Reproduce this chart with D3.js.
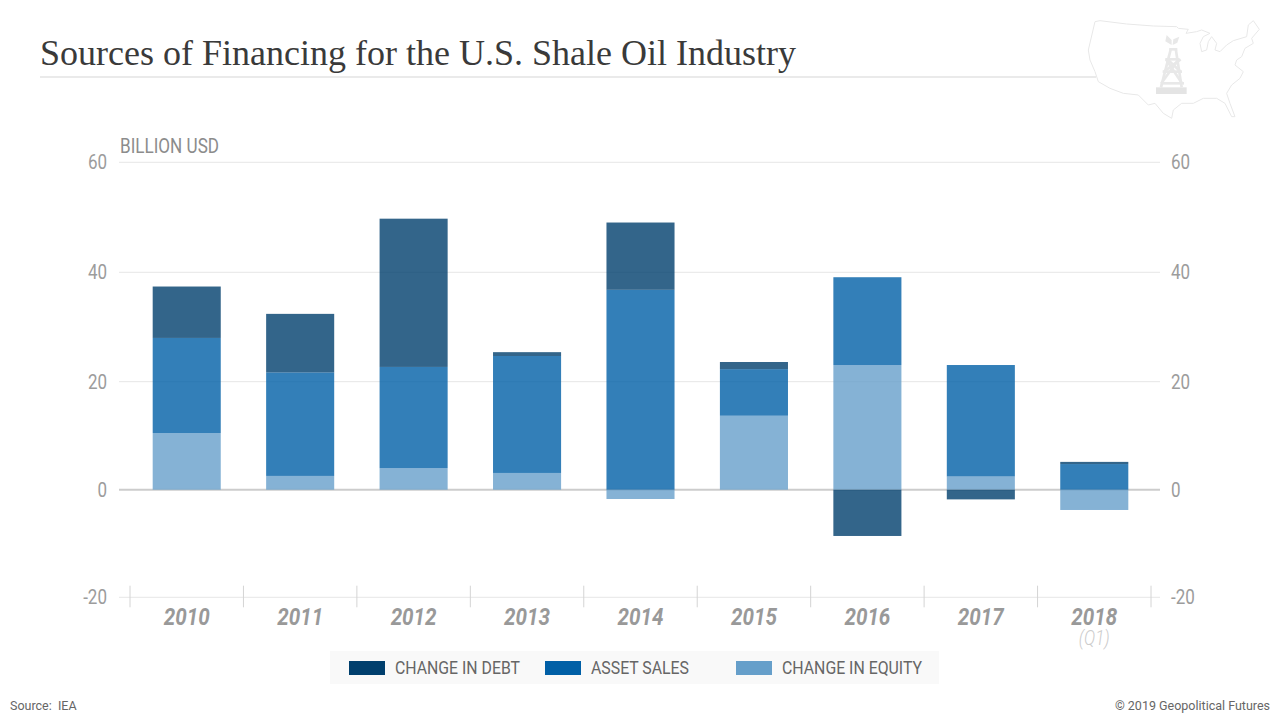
<!DOCTYPE html>
<html>
<head>
<meta charset="utf-8">
<title>Sources of Financing for the U.S. Shale Oil Industry</title>
<script src="https://cdn.jsdelivr.net/npm/d3@7"></script>
<style>
	html, body { margin: 0; padding: 0; background: #fff; }
	svg { display: block; }
	text { font-family: Roboto, sans-serif; }
</style>
</head>
<body>
<div id="chart"></div>
<script>
const years = ["2010", "2011", "2012", "2013", "2014", "2015", "2016", "2017", "2018"];
const changeInEquity = [10.5, 2.55, 4.0, 3.1, -1.73, 13.7, 23.05, 2.45, -3.77];
const assetSales = [17.5, 19.15, 18.7, 21.6, 36.8, 8.6, 16.05, 20.6, 4.75];
const changeInDebt = [9.4, 10.7, 27.05, 0.7, 12.25, 1.3, -8.6, -1.8, 0.4];

const yTicks = [-20, 0, 20, 40, 60];
const seriesKeys = ["equity", "asset", "debt"];
const seriesColors = { debt: "#003f6d", asset: "#005fa6", equity: "#669fca" };
const legendItems = [
	{ key: "debt", label: "CHANGE IN DEBT", swatch: 349, width: 125 },
	{ key: "asset", label: "ASSET SALES", swatch: 545, width: 98 },
	{ key: "equity", label: "CHANGE IN EQUITY", swatch: 736, width: 140 }
];

// decoration only, traced by hand from the logo
const mapOutline = [[105,65],[120,62],[200,72],[280,78],[350,80],[355,85],[385,88],[378,100],[410,95],[425,90],[450,100],[430,110],[420,130],[425,155],[440,150],[445,125],[455,110],[470,130],[465,150],[480,155],[500,135],[520,122],[560,110],[565,75],[580,62],[598,88],[575,115],[580,130],[555,145],[545,170],[530,180],[525,195],[550,215],[540,235],[515,255],[500,280],[510,310],[525,350],[515,350],[495,310],[470,295],[430,295],[400,310],[365,310],[340,330],[335,355],[310,340],[285,310],[265,315],[235,285],[190,280],[150,265],[115,245],[105,215],[90,180],[85,150]];
const derrickLines = [
	[[333,145],[303,262]], [[347,145],[365,262]], [[328,148],[352,148]], [[316,178],[358,178]],
	[[308,215],[366,215]], [[302,250],[372,250]], [[318,178],[366,250]], [[356,178],[304,250]],
	[[312,215],[362,178]], [[322,178],[362,215]]
];
const derrickLeaves = [[[335,135],[316,124],[320,105],[335,120]], [[338,135],[340,118],[358,110],[352,128]]];

const svg = d3.select("#chart").append("svg")
	.attr("width", 1280)
	.attr("height", 720);

// squeeze Roboto down to the narrow look of the original
function squeeze(sel, k) {
	sel.each(function () {
		const len = this.getComputedTextLength();
		d3.select(this)
			.attr("textLength", len * k)
			.attr("lengthAdjust", "spacingAndGlyphs");
	});
	return sel;
}

// Header
svg.append("text")
	.attr("x", 40)
	.attr("y", 65)
	.attr("textLength", 756)
	.attr("lengthAdjust", "spacingAndGlyphs")
	.style("font-family", "'Liberation Serif', serif")
	.style("font-size", "35px")
	.attr("fill", "#3a3a3a")
	.text("Sources of Financing for the U.S. Shale Oil Industry");

svg.append("line")
	.attr("x1", 40).attr("x2", 1096)
	.attr("y1", 77).attr("y2", 77)
	.attr("stroke", "#e3e3e3")
	.attr("stroke-width", 1.5);

// Logo
const logo = svg.append("g")
	.attr("transform", "translate(1060,0) scale(0.3333)")
	.attr("fill", "none")
	.attr("stroke", "#e8e8e8");
const logoLine = d3.line();

logo.append("path")
	.attr("d", logoLine(mapOutline) + "Z")
	.attr("fill", "#fff")
	.attr("stroke-width", 3);
logo.selectAll("path.derrick")
	.data(derrickLines)
	.enter()
	.append("path")
	.attr("class", "derrick")
	.attr("d", d => logoLine(d))
	.attr("stroke-width", 8);
logo.selectAll("path.leaf")
	.data(derrickLeaves)
	.enter()
	.append("path")
	.attr("class", "leaf")
	.attr("d", d => logoLine(d) + "Z")
	.attr("fill", "#e8e8e8")
	.attr("stroke", "none");
logo.append("path")
	.attr("d", logoLine([[288,262],[380,262],[380,282],[288,282]]) + "Z")
	.attr("fill", "#e4e4e4")
	.attr("stroke", "none");

// Scales. The reference axis is slightly uneven, so each interval gets its own stop
const x = d3.scaleBand()
	.domain(years)
	.range([130, 1151])
	.paddingInner(0.4)
	.paddingOuter(0.2);

const y = d3.scaleLinear()
	.domain(yTicks)
	.range([597.3, 489.7, 381.7, 272.3, 162.3]);

// Grid
svg.selectAll("line.grid")
	.data(yTicks)
	.enter()
	.append("line")
	.attr("class", "grid")
	.attr("x1", 119).attr("x2", 1160)
	.attr("y1", d => y(d)).attr("y2", d => y(d))
	.attr("stroke", d => d === 0 ? "#cccccc" : "#e6e6e6")
	.attr("stroke-width", d => d === 0 ? 2 : 1);

// Tick labels on both sides
const leftLabels = svg.selectAll("text.left-tick")
	.data(yTicks)
	.enter()
	.append("text")
	.attr("class", "left-tick")
	.attr("x", 107)
	.attr("y", d => y(d) + 7)
	.attr("text-anchor", "end")
	.attr("fill", "#9c9c9c")
	.style("font-size", "20px")
	.text(d => d);
squeeze(leftLabels, 0.85);

const rightLabels = svg.selectAll("text.right-tick")
	.data(yTicks)
	.enter()
	.append("text")
	.attr("class", "right-tick")
	.attr("x", 1171)
	.attr("y", d => y(d) + 7)
	.attr("fill", "#9c9c9c")
	.style("font-size", "20px")
	.text(d => d);
squeeze(rightLabels, 0.85);

svg.append("text")
	.attr("x", 120)
	.attr("y", 153)
	.attr("textLength", 99)
	.attr("lengthAdjust", "spacingAndGlyphs")
	.attr("fill", "#8c8c8c")
	.style("font-size", "20px")
	.text("BILLION USD");

// Stacked bars
const rows = years.map((year, i) => ({
	year: year,
	equity: changeInEquity[i],
	asset: assetSales[i],
	debt: changeInDebt[i]
}));

const stacked = d3.stack()
	.keys(seriesKeys)
	.offset(d3.stackOffsetDiverging)(rows);

svg.selectAll("g.series")
	.data(stacked)
	.enter()
	.append("g")
	.attr("class", "series")
	.attr("fill", d => seriesColors[d.key])
	.attr("fill-opacity", 0.8)
	.selectAll("rect")
	.data(d => d)
	.enter()
	.append("rect")
	.attr("x", d => x(d.data.year))
	.attr("y", d => y(Math.max(d[0], d[1])))
	.attr("width", x.bandwidth())
	.attr("height", d => Math.abs(y(d[0]) - y(d[1])));

// Category ticks sit on the band edges
const tickEdges = years.map(d => x(d) - x.step() * x.paddingOuter()).concat([x.range()[1]]);

svg.selectAll("line.year-tick")
	.data(tickEdges)
	.enter()
	.append("line")
	.attr("class", "year-tick")
	.attr("x1", d => d).attr("x2", d => d)
	.attr("y1", 585.7).attr("y2", 607.3)
	.attr("stroke", "#d4d4d4");

const yearLabels = svg.selectAll("text.year")
	.data(years)
	.enter()
	.append("text")
	.attr("class", "year")
	.attr("x", d => x(d) + x.bandwidth() / 2)
	.attr("y", 625)
	.attr("text-anchor", "middle")
	.attr("fill", "#999")
	.style("font-size", "24px")
	.style("font-weight", 700)
	.style("font-style", "italic")
	.text(d => d);
squeeze(yearLabels, 0.86);

squeeze(svg.append("text")
	.attr("x", x("2018") + x.bandwidth() / 2)
	.attr("y", 645)
	.attr("text-anchor", "middle")
	.attr("fill", "#ccc")
	.style("font-size", "20px")
	.style("font-weight", 300)
	.style("font-style", "italic")
	.text("(Q1)"), 0.85);

// Legend
svg.append("rect")
	.attr("x", 330).attr("y", 651)
	.attr("width", 609).attr("height", 33)
	.attr("fill", "#f9f9f9");

const legend = svg.selectAll("g.legend")
	.data(legendItems)
	.enter()
	.append("g")
	.attr("class", "legend");

legend.append("rect")
	.attr("x", d => d.swatch)
	.attr("y", 661)
	.attr("width", 36)
	.attr("height", 14)
	.attr("fill", d => seriesColors[d.key]);

legend.append("text")
	.attr("x", d => d.swatch + 46)
	.attr("y", 674)
	.attr("textLength", d => d.width)
	.attr("lengthAdjust", "spacingAndGlyphs")
	.attr("fill", "#666")
	.style("font-size", "18px")
	.text(d => d.label);

// Footer
svg.append("text")
	.attr("x", 10)
	.attr("y", 710)
	.attr("fill", "#666")
	.style("font-size", "12.5px")
	.style("white-space", "pre")
	.text("Source:  IEA");

svg.append("text")
	.attr("x", 1270)
	.attr("y", 710)
	.attr("text-anchor", "end")
	.attr("fill", "#666")
	.style("font-size", "12.5px")
	.text("© 2019 Geopolitical Futures");
</script>
</body>
</html>
